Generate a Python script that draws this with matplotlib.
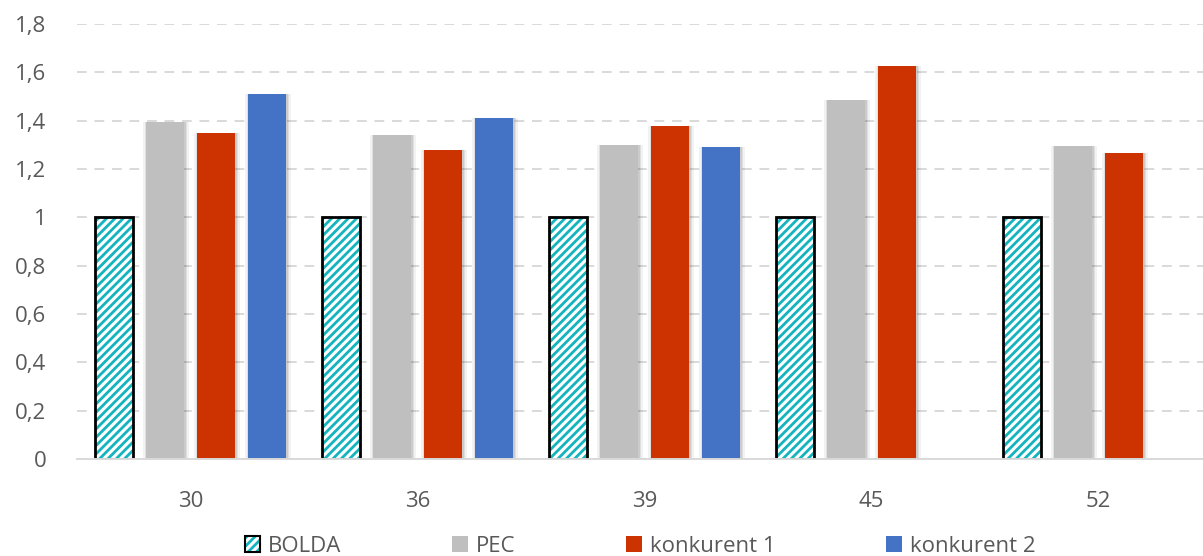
import numpy as np
import matplotlib
matplotlib.use("Agg")
import matplotlib.pyplot as plt
from matplotlib.patches import Patch
from matplotlib.legend_handler import HandlerTuple

categories = ["30", "36", "39", "45", "52"]
bolda = [1.0, 1.0, 1.0, 1.0, 1.0]
pec = [1.395, 1.342, 1.30, 1.487, 1.296]
konkurent1 = [1.35, 1.28, 1.376, 1.625, 1.265]
konkurent2 = [1.51, 1.41, 1.29, np.nan, np.nan]
y_ticks = [0, 0.2, 0.4, 0.6, 0.8, 1.0, 1.2, 1.4, 1.6, 1.8]
y_labels = ["0", "0,2", "0,4", "0,6", "0,8", "1", "1,2", "1,4", "1,6", "1,8"]

TEAL = "#14B4BE"
GREY = "#BFBFBF"
RED = "#CC3300"
BLUE = "#4472C4"
TEXT = "#595959"
GRID = "#D9D9D9"

plt.rcParams["font.family"] = ["Open Sans", "DejaVu Sans"]
plt.rcParams["hatch.linewidth"] = 2.0

fig = plt.figure(figsize=(12.03, 5.56), dpi=100)
ax = fig.add_axes([77 / 1203, 1 - 459 / 556, (1203 - 77) / 1203, (459 - 24) / 556])

x = np.arange(len(categories))
pitch = 0.225
width = 0.168
offsets = [-1.5 * pitch, -0.5 * pitch, 0.5 * pitch, 1.5 * pitch]


def soft_shadow(xs, heights):
    for xi, h in zip(xs, heights):
        if np.isnan(h):
            continue
        for k, a in zip((0.016, 0.010, 0.005), (0.05, 0.07, 0.09)):
            ax.bar(xi + 0.004, h + 0.006, width + 2 * k, bottom=-0.006,
                   color="black", alpha=a, linewidth=0, zorder=1.5)


for off, vals in zip(offsets[1:], (pec, konkurent1, konkurent2)):
    soft_shadow(x + off, vals)

# hatched reference series
ax.bar(x + offsets[0], bolda, width, color="white", edgecolor=TEAL,
       hatch="////", linewidth=0, zorder=2)
ax.bar(x + offsets[0], bolda, width, fill=False, edgecolor="black",
       linewidth=2.0, zorder=3)
ax.bar(x + offsets[1], pec, width, color=GREY, linewidth=0, zorder=2)
ax.bar(x + offsets[2], konkurent1, width, color=RED, linewidth=0, zorder=2)
ax.bar(x + offsets[3], konkurent2, width, color=BLUE, linewidth=0, zorder=2)

ax.set_xlim(-0.5, 4.46)
ax.set_ylim(0, 1.8)
ax.set_yticks(y_ticks)
ax.set_yticklabels(y_labels)
ax.set_xticks(x)
ax.set_xticklabels(categories)
ax.tick_params(axis="both", length=0, labelsize=16, colors=TEXT)
ax.tick_params(axis="y", pad=22)
ax.tick_params(axis="x", pad=23)

ax.grid(axis="y", color=GRID, linestyle=(0, (5, 4)), linewidth=1.4, zorder=0)
ax.set_axisbelow(True)
for s in ("top", "right", "left"):
    ax.spines[s].set_visible(False)
ax.spines["bottom"].set_color(GRID)
ax.spines["bottom"].set_linewidth(1.4)
ax.spines["bottom"].set_zorder(4)

# hatched key drawn as a teal-hatched square overlaid with a black outline
bolda_key = (
    Patch(facecolor="white", edgecolor=TEAL, hatch="////", linewidth=0),
    Patch(fill=False, edgecolor="black", linewidth=1.5),
)
handles = [
    bolda_key,
    Patch(facecolor=GREY, edgecolor="none"),
    Patch(facecolor=RED, edgecolor="none"),
    Patch(facecolor=BLUE, edgecolor="none"),
]
fig.legend(handles, ["BOLDA", "PEC", "konkurent 1", "konkurent 2"],
           handler_map={tuple: HandlerTuple(ndivide=1, pad=0)},
           loc="center", bbox_to_anchor=(640 / 1203, 1 - 546 / 556),
           ncol=4, frameon=False, fontsize=16, labelcolor=TEXT,
           handlelength=0.7, handleheight=0.7, handletextpad=0.35,
           columnspacing=5.0, borderpad=0.2)

fig.savefig("out.png", dpi=100)
